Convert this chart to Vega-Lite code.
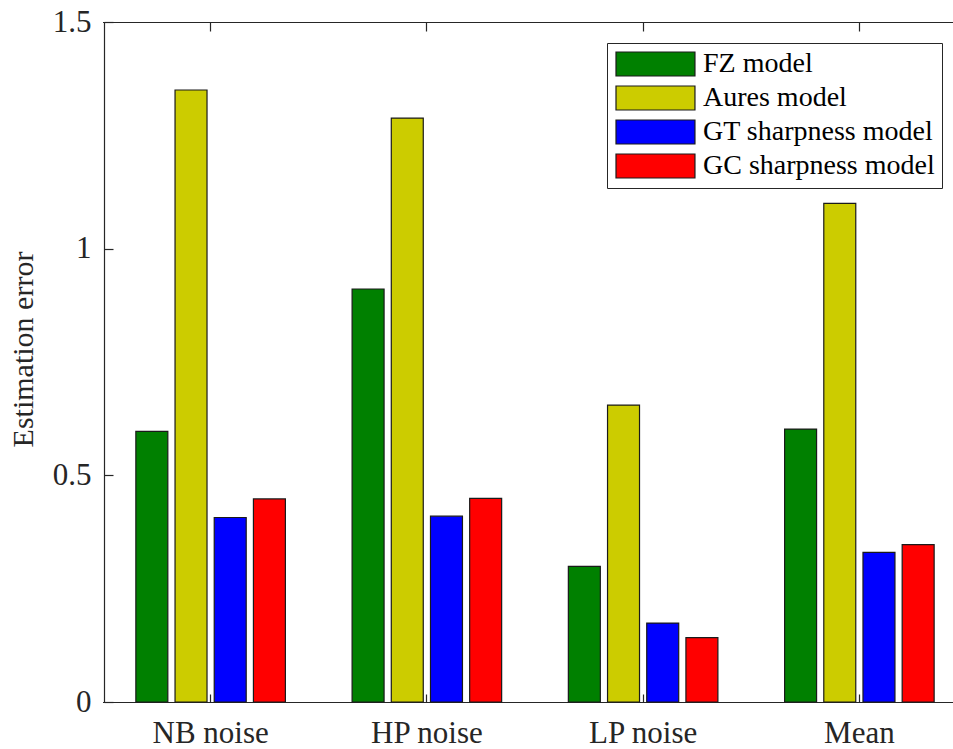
{
  "$schema": "https://vega.github.io/schema/vega-lite/v6.json",
  "autosize": "none",
  "width": 849,
  "height": 680,
  "padding": {"left": 104, "top": 22, "right": 0, "bottom": 47},
  "background": "white",
  "config": {
    "view": {"stroke": null},
    "font": "Liberation Serif",
    "axis": {"grid": false, "domainColor": "#262626", "tickColor": "#262626", "labelColor": "#262626", "titleColor": "#262626", "labelFont": "Liberation Serif", "titleFont": "Liberation Serif", "labelFontSize": 31, "titleFontSize": 30, "titleFontWeight": "normal", "domainWidth": 1.2, "tickWidth": 1.2}
  },
  "data": {
    "values": [
      {"group": "NB noise", "model": "FZ model", "value": 0.597},
      {"group": "NB noise", "model": "Aures model", "value": 1.35},
      {"group": "NB noise", "model": "GT sharpness model", "value": 0.407},
      {"group": "NB noise", "model": "GC sharpness model", "value": 0.448},
      {"group": "HP noise", "model": "FZ model", "value": 0.911},
      {"group": "HP noise", "model": "Aures model", "value": 1.288},
      {"group": "HP noise", "model": "GT sharpness model", "value": 0.41},
      {"group": "HP noise", "model": "GC sharpness model", "value": 0.449},
      {"group": "LP noise", "model": "FZ model", "value": 0.299},
      {"group": "LP noise", "model": "Aures model", "value": 0.655},
      {"group": "LP noise", "model": "GT sharpness model", "value": 0.174},
      {"group": "LP noise", "model": "GC sharpness model", "value": 0.142},
      {"group": "Mean", "model": "FZ model", "value": 0.602},
      {"group": "Mean", "model": "Aures model", "value": 1.1},
      {"group": "Mean", "model": "GT sharpness model", "value": 0.33},
      {"group": "Mean", "model": "GC sharpness model", "value": 0.347}
    ]
  },
  "layer": [
    {
      "mark": {"type": "bar", "stroke": "#1a1a1a", "strokeWidth": 1.2},
      "encoding": {
        "x": {
          "field": "group", "type": "nominal", "sort": ["NB noise", "HP noise", "LP noise", "Mean"],
          "scale": {"range": [-1.5, 863.5], "paddingInner": 0, "paddingOuter": 0},
          "axis": {"orient": "bottom", "title": null, "labelAngle": 0, "tickSize": -8, "labelPadding": 24, "domain": true}
        },
        "xOffset": {
          "field": "model", "type": "nominal",
          "sort": ["FZ model", "Aures model", "GT sharpness model", "GC sharpness model"],
          "scale": {"paddingInner": 0.184, "paddingOuter": 0.851}
        },
        "y": {
          "field": "value", "type": "quantitative",
          "scale": {"domain": [0, 1.5], "nice": false},
          "axis": {"title": "Estimation error", "values": [0, 0.5, 1, 1.5], "labelExpr": "'' + datum.value", "tickSize": -9, "labelPadding": 22, "titlePadding": 14, "titleY": 327}
        },
        "color": {
          "field": "model", "type": "nominal",
          "sort": ["FZ model", "Aures model", "GT sharpness model", "GC sharpness model"],
          "scale": {"domain": ["FZ model", "Aures model", "GT sharpness model", "GC sharpness model"], "range": ["#008000", "#cccc00", "#0000ff", "#ff0000"]},
          "legend": {
            "title": null, "orient": "none", "legendX": 503, "legendY": 21,
            "symbolType": "M-1,-1H5.58V1H-1Z", "symbolSize": 576,
            "symbolStrokeColor": "#1a1a1a", "symbolStrokeWidth": 1.2, "symbolOpacity": 1,
            "labelFont": "Liberation Serif", "labelFontSize": 28, "labelColor": "#000000", "labelLimit": 400, "labelOffset": 61,
            "rowPadding": 4, "padding": 7, "strokeColor": "#262626", "fillColor": "white", "cornerRadius": 0
          }
        }
      }
    },
    {
      "mark": {"type": "bar", "opacity": 0},
      "encoding": {
        "x": {
          "field": "group", "type": "nominal", "sort": ["NB noise", "HP noise", "LP noise", "Mean"],
          "axis": {"orient": "top", "title": null, "labels": false, "tickSize": -9, "domain": true}
        }
      }
    }
  ],
  "resolve": {"axis": {"x": "independent"}}
}
